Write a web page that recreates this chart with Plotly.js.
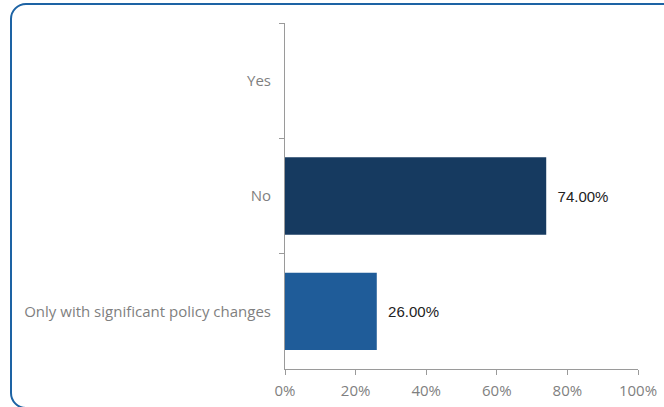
<!DOCTYPE html>
<html>
<head>
<meta charset="utf-8">
<script src="https://cdn.plot.ly/plotly-3.0.1.min.js"></script>
<style>
  html, body { margin: 0; padding: 0; background: #ffffff; overflow: hidden; }
  #wrap { position: relative; width: 664px; height: 407px; overflow: hidden; }
  #frame { position: absolute; left: 10px; top: 3px; width: 680px; height: 406px;
           border: 2px solid #1d63a4; border-radius: 16px; box-sizing: border-box; pointer-events: none; }
  #chart { position: absolute; left: 0; top: 0; width: 664px; height: 407px; }
</style>
</head>
<body>
<div id="wrap">
  <div id="chart"></div>
  <div id="frame"></div>
</div>
<script>
const categories = ["Yes", "No", "Only with significant policy changes"];
const values = [0, 0.74, 0.26];
const barColors = ["#1a3d63", "#163a60", "#1f5c99"];
const xTickVals = [0, 0.2, 0.4, 0.6, 0.8, 1.0];
const xTickText = ["0%", "20%", "40%", "60%", "80%", "100%"];

const labels = values.map(v => v > 0 ? "\u00a0\u00a0" + (v * 100).toFixed(2) + "%" : "");

const trace = {
  type: "bar",
  orientation: "h",
  y: categories,
  x: values,
  marker: { color: barColors },
  text: labels,
  textposition: "outside",
  textfont: { family: "Liberation Sans, Arial, sans-serif", size: 15, color: "#222222" },
  cliponaxis: false,
  hoverinfo: "none"
};

const layout = {
  width: 664,
  height: 407,
  margin: { l: 285, r: 26, t: 23, b: 38 },
  paper_bgcolor: "#ffffff",
  plot_bgcolor: "#ffffff",
  showlegend: false,
  bargap: 0.33,
  font: { family: "Open Sans, sans-serif", size: 13, color: "#7f7f7f" },
  xaxis: {
    range: [0, 1],
    tickvals: xTickVals,
    ticktext: xTickText,
    showgrid: false,
    zeroline: false,
    showline: true,
    linecolor: "#9a9a9a",
    linewidth: 1,
    ticks: "outside",
    ticklen: 5,
    tickcolor: "#9a9a9a",
    ticklabelstandoff: 3,
    tickfont: { size: 15, color: "#7f7f7f" },
    fixedrange: true
  },
  yaxis: {
    type: "category",
    categoryorder: "array",
    categoryarray: categories,
    autorange: "reversed",
    showgrid: false,
    zeroline: false,
    showline: true,
    linecolor: "#9a9a9a",
    linewidth: 1,
    ticks: "outside",
    tickson: "boundaries",
    ticklen: 5,
    tickcolor: "#9a9a9a",
    ticklabelstandoff: 10,
    tickfont: { size: 15, color: "#7f7f7f" },
    fixedrange: true
  }
};

Plotly.newPlot("chart", [trace], layout, { displayModeBar: false, staticPlot: true });
</script>
</body>
</html>
